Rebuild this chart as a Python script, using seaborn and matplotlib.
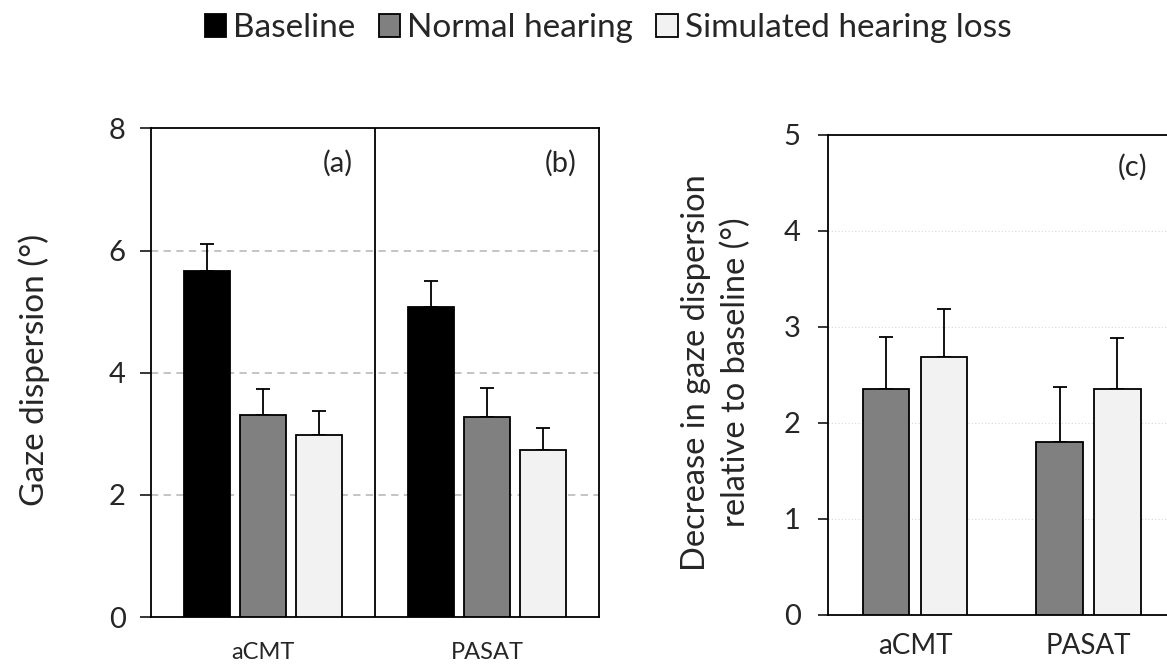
import numpy as np
import pandas as pd
import matplotlib
matplotlib.use("Agg")
import matplotlib.pyplot as plt
import seaborn as sns

# data
tasks = ["aCMT", "PASAT"]
conditions = ["Baseline", "Normal hearing", "Simulated hearing loss"]
colors = ["#000000", "#808080", "#f2f2f2"]

# panels (a)/(b): gaze dispersion (deg), rows = task, cols = condition
disp_mean = [[5.66, 3.31, 2.98],
             [5.07, 3.27, 2.73]]
disp_err = [[0.44, 0.42, 0.40],
            [0.43, 0.48, 0.36]]

# panel (c): decrease relative to baseline (deg)
dec_conditions = ["Normal hearing", "Simulated hearing loss"]
dec_mean = [[2.35, 2.68],
            [1.80, 2.35]]
dec_err = [[0.54, 0.50],
           [0.57, 0.53]]

sns.set_style("white")
plt.rcParams['font.family'] = ['Lato', 'DejaVu Sans']
plt.rcParams['axes.linewidth'] = 1.3

palette = dict(zip(conditions, colors))

df_disp = pd.DataFrame([(t, c, disp_mean[i][j], disp_err[i][j])
                        for i, t in enumerate(tasks)
                        for j, c in enumerate(conditions)],
                       columns=["task", "condition", "value", "err"])
df_dec = pd.DataFrame([(t, c, dec_mean[i][j], dec_err[i][j])
                       for i, t in enumerate(tasks)
                       for j, c in enumerate(dec_conditions)],
                      columns=["task", "condition", "value", "err"])

fig = plt.figure(figsize=(11.67, 6.69), dpi=100)
ax1 = fig.add_axes([0.1291, 0.0774, 0.3844, 0.7308])
ax2 = fig.add_axes([0.7098, 0.0813, 0.2972, 0.7175])


def draw_bars(ax, df, hue_order, width, gap, capsize):
    sns.barplot(data=df, x="task", y="value", hue="condition", order=tasks,
                hue_order=hue_order, palette=palette, saturation=1,
                width=width, gap=gap, errorbar=None, edgecolor="black",
                linewidth=1.3, ax=ax, zorder=3)
    # upper-only error bars, one container per condition
    errs = df.set_index(["task", "condition"])["err"]
    for cont, cond in zip(ax.containers, hue_order):
        for bar, task in zip(cont, tasks):
            xc = bar.get_x() + bar.get_width() / 2
            h = bar.get_height()
            ax.errorbar(xc, h, yerr=[[0], [errs[(task, cond)]]], fmt="none",
                        ecolor="black", elinewidth=1.3, capsize=capsize,
                        capthick=1.3, zorder=2)


draw_bars(ax1, df_disp, conditions, 0.75, 0.18, 4.7)
draw_bars(ax2, df_dec, dec_conditions, 0.667, 0.2, 4.7)

# panel (a)/(b) styling
ax1.set_xlim(-0.5, 1.5)
ax1.set_ylim(0, 8)
ax1.set_yticks([0, 2, 4, 6, 8])
for y in [2, 4, 6]:
    ax1.axhline(y, color="#bfbfbf", lw=1.3, ls=(0, (4, 3)), zorder=0)
ax1.axvline(0.5, color="black", lw=1.3, zorder=4)
ax1.set_xticks([0, 1])
ax1.set_xticks([-0.5, 0.5, 1.5], minor=True)
ax1.tick_params(axis="x", which="major", length=0, pad=18, labelsize=17)
ax1.tick_params(axis="x", which="minor", length=7, width=1.3, direction="out")
ax1.tick_params(axis="y", length=8, width=1.3, direction="out", pad=10,
                labelsize=21, left=True)
ax1.set_xlabel("")
ax1.set_ylabel("Gaze dispersion (°)", fontsize=24)
ax1.yaxis.set_label_coords(-0.225, 0.505)
ax1.text(0.335, 7.42, "(a)", fontsize=21, ha="center", va="center")
ax1.text(1.329, 7.42, "(b)", fontsize=21, ha="center", va="center")
for s in ax1.spines.values():
    s.set_color("black")
    s.set_linewidth(1.3)

# panel (c) styling
ax2.set_xlim(-0.5, 1.5)
ax2.set_ylim(0, 5)
ax2.set_yticks([0, 1, 2, 3, 4, 5])
for y in [1, 2, 3, 4]:
    ax2.axhline(y, color="#d9d9d9", lw=0.8, ls=(0, (1, 2)), zorder=0)
ax2.set_xticks([0, 1])
ax2.set_xticks([-0.5, 0.5], minor=True)
ax2.tick_params(axis="x", which="major", length=0, pad=13, labelsize=20)
ax2.tick_params(axis="x", which="minor", length=7, width=1.3, direction="out")
ax2.tick_params(axis="y", length=7, width=1.3, direction="out", pad=13,
                labelsize=21, left=True)
ax2.set_xlabel("")
ax2.set_ylabel("Decrease in gaze dispersion\nrelative to baseline (°)",
               fontsize=23.5, linespacing=1.4)
ax2.yaxis.set_label_coords(-0.222, 0.505)
ax2.text(1.257, 4.66, "(c)", fontsize=21, ha="center", va="center")
for s in ax2.spines.values():
    s.set_color("black")
    s.set_linewidth(1.3)

# shared legend on top
handles, labels = ax1.get_legend_handles_labels()
ax1.get_legend().remove()
ax2.get_legend().remove()
fig.legend(handles, labels, loc="center", bbox_to_anchor=(0.521, 0.958),
           ncol=3, frameon=False, fontsize=24, handlelength=0.65,
           handleheight=0.65, handletextpad=0.2, columnspacing=0.7)

fig.savefig("out.png", dpi=100)
